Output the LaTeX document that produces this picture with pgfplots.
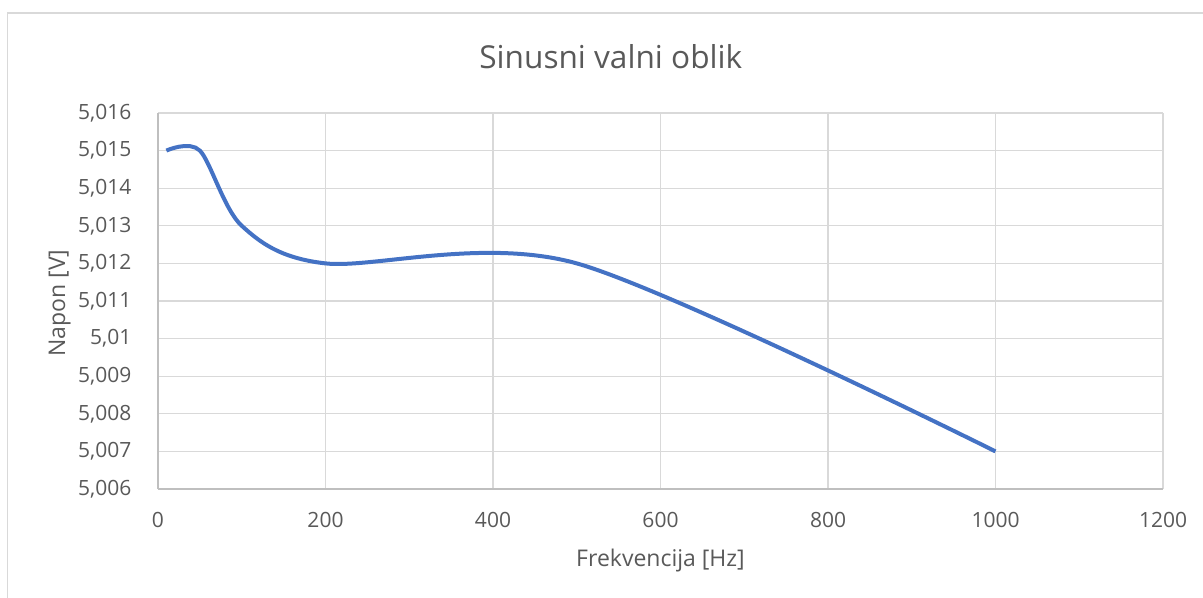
\documentclass[border=0pt]{standalone}
\usepackage{fontspec}
\setmainfont{Open Sans}
\usepackage{pgfplots}
\pgfplotsset{compat=1.18}
\definecolor{txt}{HTML}{595959}
\definecolor{gridc}{HTML}{D9D9D9}
\definecolor{axc}{HTML}{BFBFBF}
\definecolor{serie}{HTML}{4472C4}
\begin{document}
\begin{tikzpicture}
\useasboundingbox (0,0) rectangle (601.5pt,299pt);
\draw[gridc, line width=0.8pt] (3.75pt,0) -- (3.75pt,292.6pt) -- (601.5pt,292.6pt);
\begin{axis}[
  at={(79pt,54.5pt)}, anchor=south west,
  width=502.5pt, height=188pt, scale only axis,
  xmin=0, xmax=1200, ymin=5.006, ymax=5.016,
  xtick={0,200,400,600,800,1000,1200},
  ytick={5.006,5.007,5.008,5.009,5.010,5.011,5.012,5.013,5.014,5.015,5.016},
  yticklabels={{5,006},{5,007},{5,008},{5,009},{5,01},{5,011},{5,012},{5,013},{5,014},{5,015},{5,016}},
  scaled x ticks=false, scaled y ticks=false,
  /pgf/number format/.cd, 1000 sep={}, assume math mode=true, /pgfplots/.cd,
  major tick length=0pt,
  axis x line*=bottom, axis y line*=left,
  axis line style={axc, line width=0.8pt},
  grid=major,
  major grid style={gridc, line width=0.6pt},
  tick label style={font=\fontsize{10.5}{12}\selectfont, text=txt, inner sep=0pt},
  xticklabel style={anchor=north, yshift=-11.3pt},
  yticklabel style={anchor=east, xshift=-13.1pt},
  xlabel={Frekvencija [Hz]},
  ylabel={Napon [V]},
  label style={font=\fontsize{11.5}{13}\selectfont, text=txt, inner sep=0pt},
  xlabel style={at={(axis description cs:0.5,-0.2066)}, anchor=base},
  ylabel style={at={(axis description cs:-0.0925,0.4947)}, anchor=base, rotate=0},
  every axis title shift=0pt,
  title={Sinusni valni oblik},
  title style={font=\fontsize{15.8}{18}\selectfont, text=txt, inner sep=0pt, at={(axis description cs:0.4505,1.1189)}, anchor=base},
  clip=false,
]
\addplot[serie, line width=2pt, smooth, no markers] coordinates {
  (10,5.015) (50,5.015) (100,5.013) (200,5.012) (500,5.012) (1000,5.007)
};
\end{axis}
\end{tikzpicture}
\end{document}
